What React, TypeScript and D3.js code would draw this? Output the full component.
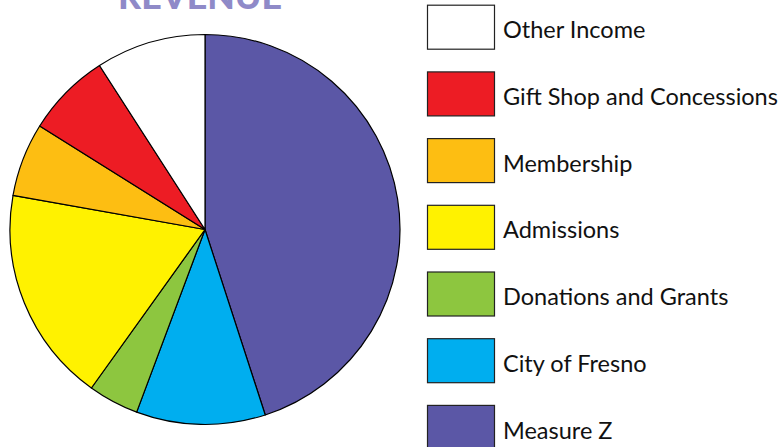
import React from "react";
import * as d3 from "d3";

const categories = [
  "Measure Z",
  "City of Fresno",
  "Donations and Grants",
  "Admissions",
  "Membership",
  "Gift Shop and Concessions",
  "Other Income",
];
const values = [45.0, 10.7, 4.2, 17.9, 6.1, 7.0, 9.1];
const colors = ["#5b57a6", "#00aeef", "#8dc63f", "#fff200", "#fdbe12", "#ed1c24", "#ffffff"];
const legendOrder = [
  "Other Income",
  "Gift Shop and Concessions",
  "Membership",
  "Admissions",
  "Donations and Grants",
  "City of Fresno",
  "Measure Z",
];
const title = "REVENUE";

export default function App() {
  const W = 778, H = 447;
  const cx = 205, cy = 229.5, r = 195;
  const pie = d3.pie<number>().sort(null).value((d) => d);
  const arcs = pie(values);
  const arc = d3.arc<d3.PieArcDatum<number>>().innerRadius(0).outerRadius(r);
  const color = d3.scaleOrdinal<string, string>().domain(categories).range(colors);
  const ly = d3.scaleBand<string>().domain(legendOrder).range([4.7, 4.7 + 66.7 * 7]).paddingInner(0);

  return (
    <svg width={W} height={H} style={{ position: "absolute", left: 0, top: 0, background: "#fff" }}>
      <text
        x={200}
        y={9}
        textAnchor="middle"
        fontFamily="Lato, 'Open Sans', sans-serif"
        fontWeight={900}
        fontSize={34}
        fill="#8f8ac8"
        textLength={164}
        lengthAdjust="spacingAndGlyphs"
      >
        {title}
      </text>
      <g transform={`translate(${cx},${cy})`}>
        {arcs.map((a, i) => (
          <path key={i} d={arc(a) || ""} fill={color(categories[i])} stroke="#000" strokeWidth={1.2} strokeLinejoin="round" />
        ))}
      </g>
      {legendOrder.map((name) => {
        const y = ly(name)!;
        return (
          <g key={name}>
            <rect x={427.5} y={y + 0.5} width={67} height={44} fill={color(name)} stroke="#222" strokeWidth={1.2} />
            <text
              x={503}
              y={y + 33.6}
              fontFamily="Lato, 'Noto Sans', sans-serif"
              fontSize={23.5}
              fill="#111"
            >
              {name}
            </text>
          </g>
        );
      })}
    </svg>
  );
}
